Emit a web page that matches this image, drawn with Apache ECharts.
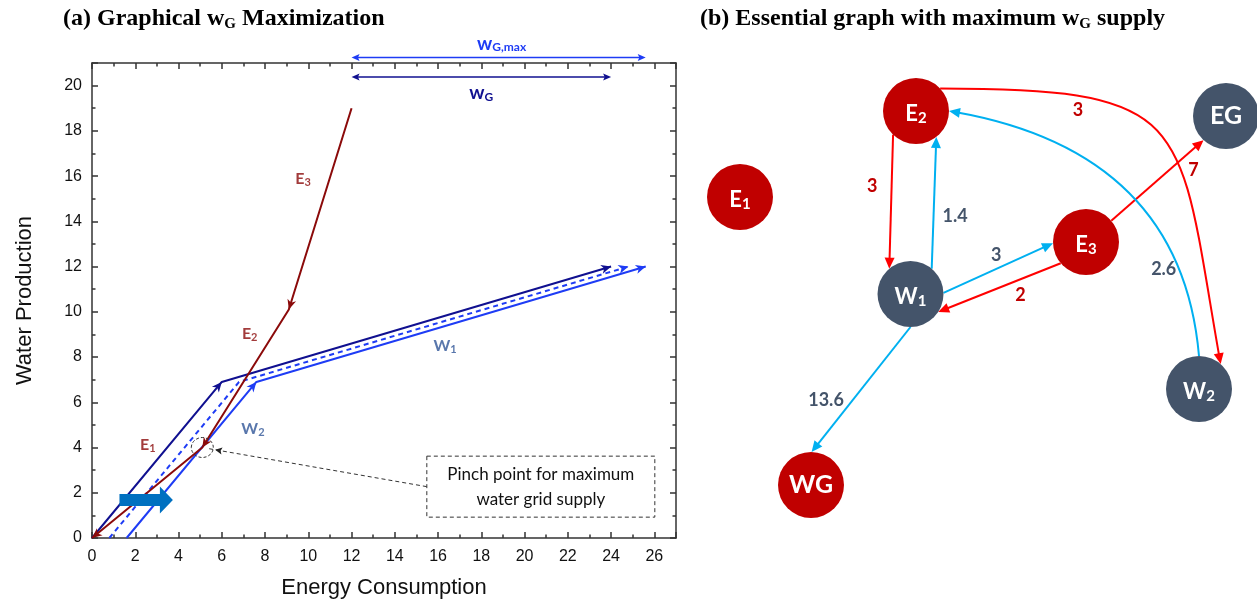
<!DOCTYPE html>
<html><head><meta charset="utf-8">
<script src="https://cdn.jsdelivr.net/npm/echarts@6/dist/echarts.min.js"></script>
<style>html,body{margin:0;padding:0;background:#fff}#c{width:1257px;height:605px}</style>
</head><body><div id="c"></div>
<script>
// ================= DATA: panel (a) =================
const xTickValues = [0,2,4,6,8,10,12,14,16,18,20,22,24,26];
const yTickValues = [0,2,4,6,8,10,12,14,16,18,20];
const xMax = 27, yMax = 21;
// energy composite curve (drawn from top to bottom: E3 -> E2 -> E1)
const energyCurve = [[0,0],[5.1,4.0],[9.1,10.1],[12.0,19.0]];
// water composite curves
const waterCurveWG  = [[0,0],[6.0,6.9],[24.0,12.0]];
const waterCurveMid = [[0.8,0],[6.8,6.9],[24.8,12.0]];
const waterCurveMax = [[1.6,0],[7.6,6.9],[25.6,12.0]];
const shiftArrow = [[1.27,1.68],[3.74,1.68]];
const wGSpan = [12, 24];
const wGmaxSpan = [12, 25.6];
const pinchPoint = [5.1, 4.0];
const noteAnchor = [20.75, 2.27];
const noteLines = ['Pinch point for maximum', 'water grid supply'];
const curveLabelNames = ['E1','E2','E3','W1','W2'];
const curveLabelPos = [[2.58,4.11],[7.29,9.01],[9.76,15.88],[16.32,8.48],[7.44,4.84]];

// ================= DATA: panel (b) =================
const nodeNames = ['E1','E2','E3','EG','W1','W2','WG'];
const nodeX = [5.0, 22.6, 39.6, 53.6, 22.05, 50.9, 12.1];
const nodeY = [14.7, 6.1, 19.2, 6.6, 24.4, 33.9, 43.5];
const edgeFrom = ['E2','W1','W1','E3','E3','E2','W2','W1'];
const edgeTo   = ['W1','E2','E3','W1','EG','W2','E2','WG'];
const edgeFlow = [3, 1.4, 3, 2, 7, 3, 2.6, 13.6];

// ================= STYLE =================
const D = Math.PI/180;
const C_E = '#8B0A0A', C_NAVY = '#101090', C_BLUE = '#1E3CF5', C_WLAB = '#2F5597';
const curveColors = [C_E, C_NAVY, C_BLUE, C_BLUE];
const NODE_R = 33;
const nodeColor = {E1:'#C00000',E2:'#C00000',E3:'#C00000',WG:'#C00000',EG:'#44546A',W1:'#44546A',W2:'#44546A'};
const edgeGeom = [
  {a1:134, a2:230, lt:0.5, lo:[-19,-16]},
  {a1:-50, a2:52,  lt:0.5, lo:[21,13]},
  {a1:-2,  a2:178, lt:0.5, lo:[-2,-13]},
  {a1:140, a2:33,  lt:0.5, lo:[21,8]},
  {a1:-40, a2:133, lt:0.5, lo:[36,-10]},
  {a1:-43, a2:-49, c:[256,0,249,80], lt:0.25, lo:[-8,13]},
  {a1:-90, a2:0,   c:[155,-95,136.5,190], lt:0.2, lo:[-17,-4]},
  {a1:90,  a2:-89, lt:0.5, lo:[-35,11]}
];

const arrowData = [];
[[2,3],[1,2],[0,1]].forEach(([a,b]) => arrowData.push([energyCurve[a][0],energyCurve[a][1],energyCurve[b][0],energyCurve[b][1],0]));
[[waterCurveWG,1],[waterCurveMax,2]].forEach(([c,ci]) => {
  arrowData.push([c[1][0],c[1][1],c[0][0],c[0][1],ci]);
  arrowData.push([c[2][0],c[2][1],c[1][0],c[1][1],ci]);
});
arrowData.push([waterCurveMid[2][0],waterCurveMid[2][1],waterCurveMid[1][0],waterCurveMid[1][1],3]);

function head(tip, ang, L, W, notch, color) {
  const ux = Math.cos(ang), uy = Math.sin(ang);
  const bx = tip[0]-ux*L, by = tip[1]-uy*L;
  return {type:'polygon', shape:{points:[[tip[0],tip[1]],[bx-uy*W,by+ux*W],[tip[0]-ux*L*notch,tip[1]-uy*L*notch],[bx+uy*W,by-ux*W]]}, style:{fill:color}};
}
function bez(p0,p1,p2,p3,t){
  const a=(1-t)*(1-t)*(1-t), b=3*(1-t)*(1-t)*t, c=3*(1-t)*t*t, d=t*t*t;
  return [a*p0[0]+b*p1[0]+c*p2[0]+d*p3[0], a*p0[1]+b*p1[1]+c*p2[1]+d*p3[1]];
}

const lineSeries = (data, color, dashed) => ({
  type:'line', xAxisIndex:0, yAxisIndex:0, data, showSymbol:false, symbol:'none', silent:true, z:3,
  lineStyle:{color, width:2, type: dashed ? [5,4] : 'solid'}
});

const frameAxis = (extra) => Object.assign({
  type:'value', interval:2, gridIndex:0,
  axisLine:{show:true, onZero:false, lineStyle:{color:'#333', width:1.5}},
  axisTick:{show:true, inside:true, length:6, lineStyle:{color:'#333', width:1.5}},
  minorTick:{show:true, splitNumber:2, length:3.5, lineStyle:{color:'#333', width:1.5}},
  splitLine:{show:false}
}, extra);

const labelFont = {fontFamily:'Liberation Sans', fontSize:16, color:'#111'};
const titleStyle = {fontFamily:'Liberation Serif', fontWeight:'bold', fontSize:24, lineHeight:26, color:'#000',
  rich:{g:{fontFamily:'Liberation Serif', fontWeight:'bold', fontSize:15, lineHeight:15, verticalAlign:'bottom', color:'#000'}}};

const option = {
  animation:false,
  backgroundColor:'#fff',
  title:[
    {text:'(a) Graphical w{g|G} Maximization', left:63, top:6, padding:0, textStyle:titleStyle},
    {text:'(b) Essential graph with maximum w{g|G} supply', left:700, top:6, padding:0, textStyle:titleStyle}
  ],
  grid:[
    {left:92, top:63, width:584, height:475},
    {left:690, top:50, width:560, height:500}
  ],
  xAxis:[
    frameAxis({min:xTickValues[0], max:xMax, position:'bottom',
      axisLabel:Object.assign({margin:11, showMaxLabel:false}, labelFont),
      name:'Energy Consumption', nameLocation:'middle', nameGap:39,
      nameTextStyle:{fontFamily:'Liberation Sans', fontSize:22, color:'#111'}}),
    frameAxis({min:xTickValues[0], max:xMax, position:'top', axisLabel:{show:false}}),
    {gridIndex:1, type:'value', min:0, max:56, show:false}
  ],
  yAxis:[
    frameAxis({min:yTickValues[0], max:yMax, position:'left',
      axisLabel:Object.assign({margin:10, showMaxLabel:false}, labelFont),
      name:'Water Production', nameLocation:'middle', nameGap:56,
      nameTextStyle:{fontFamily:'Liberation Sans', fontSize:22, color:'#111'}}),
    frameAxis({min:yTickValues[0], max:yMax, position:'right', axisLabel:{show:false}}),
    {gridIndex:1, type:'value', min:0, max:50, inverse:true, show:false}
  ],
  series:[
    lineSeries(waterCurveWG, C_NAVY, false),
    lineSeries(waterCurveMid, C_BLUE, true),
    lineSeries(waterCurveMax, C_BLUE, false),
    lineSeries(energyCurve, C_E, false),
    {type:'custom', xAxisIndex:0, yAxisIndex:0, data:arrowData, z:5, silent:true, clip:false,
     renderItem:(params, api) => {
       const tip = api.coord([api.value(0), api.value(1)]);
       const from = api.coord([api.value(2), api.value(3)]);
       const ang = Math.atan2(tip[1]-from[1], tip[0]-from[0]);
       return head(tip, ang, 10, 4.5, 0.72, curveColors[api.value(4)]);
     }},
    {type:'custom', xAxisIndex:0, yAxisIndex:0, data:[[shiftArrow[0][0],shiftArrow[0][1],shiftArrow[1][0],shiftArrow[1][1]]], z:6, silent:true,
     renderItem:(params, api) => {
       const a = api.coord([api.value(0), api.value(1)]);
       const b = api.coord([api.value(2), api.value(3)]);
       const hl = 13, sh = 6, hh = 13.5;
       const bx = b[0]-hl;
       return {type:'polygon', shape:{points:[[a[0],a[1]-sh],[bx,a[1]-sh],[bx,a[1]-hh],[b[0],b[1]],[bx,a[1]+hh],[bx,a[1]+sh],[a[0],a[1]+sh]]},
               style:{fill:'#0070C0'}};
     }},
    {type:'custom', xAxisIndex:0, yAxisIndex:0, clip:false, z:6, silent:true,
     data:[[wGSpan[0], wGSpan[1], 0],[wGmaxSpan[0], wGmaxSpan[1], 1]],
     renderItem:(params, api) => {
       const i = api.value(2);
       const a = api.coord([api.value(0), 0]), b = api.coord([api.value(1), 0]);
       const cs = params.coordSys;
       const y = i === 1 ? cs.y - 5.5 : cs.y + 14;
       const col = i === 1 ? C_BLUE : C_NAVY;
       const mid = (a[0]+b[0])/2;
       return {type:'group', children:[
         {type:'line', shape:{x1:a[0]+4, y1:y, x2:b[0]-4, y2:y}, style:{stroke:col, lineWidth:1.5}},
         head([a[0],y], Math.PI, 8, 3.5, 0.8, col),
         head([b[0],y], 0, 8, 3.5, 0.8, col),
         {type:'text', x: mid + (i===1?3:0), y: i===1 ? y-14 : y+16,
          style:{text: i===1 ? '{m|w}{s|G,max}' : '{m|w}{s|G}', align:'center', verticalAlign:'middle',
            rich:{m:{fontFamily:'Lato', fontWeight:'bold', fontSize:19, lineHeight:20, fill:col, color:col},
                  s:{fontFamily:'Lato', fontWeight:'bold', fontSize:12, lineHeight:10, verticalAlign:'bottom', fill:col, color:col}}}}
       ]};
     }},
    {type:'custom', xAxisIndex:0, yAxisIndex:0, clip:false, z:7, silent:true,
     data:[[pinchPoint[0], pinchPoint[1], noteAnchor[0], noteAnchor[1]]],
     renderItem:(params, api) => {
       const p = api.coord([api.value(0), api.value(1)]);
       const n = api.coord([api.value(2), api.value(3)]);
       const bw = 228, bh = 61;
       const s = [n[0]-bw/2, n[1]];
       const ang = Math.atan2(p[1]-s[1], p[0]-s[0]);
       const tip = [p[0]-Math.cos(ang)*13, p[1]-Math.sin(ang)*13];
       return {type:'group', children:[
         {type:'ellipse', shape:{cx:p[0], cy:p[1], rx:11, ry:10}, style:{fill:'none', stroke:'#333', lineWidth:1, lineDash:[3,2]}},
         {type:'line', shape:{x1:s[0], y1:s[1], x2:tip[0]+Math.cos(ang)*6, y2:tip[1]+Math.sin(ang)*6}, style:{stroke:'#333', lineWidth:1, lineDash:[4,3]}},
         head(tip, ang, 7, 3.5, 0.8, '#222'),
         {type:'rect', shape:{x:n[0]-bw/2, y:n[1]-bh/2, width:bw, height:bh}, style:{fill:'#fff', stroke:'#333', lineWidth:1, lineDash:[4,3]}},
         {type:'text', x:n[0], y:n[1], style:{text: noteLines.join('\n'), align:'center', verticalAlign:'middle',
            fontFamily:'Lato', fontSize:17, lineHeight:25, fill:'#111'}}
       ]};
     }},
    {type:'scatter', xAxisIndex:0, yAxisIndex:0, symbolSize:2, itemStyle:{color:'rgba(255,255,255,0)'}, silent:true, z:8,
     data: curveLabelNames.map((nm, i) => ({value:curveLabelPos[i], label:{show:true, position:'inside',
        formatter:'{m|' + nm[0] + '}{s|' + nm.slice(1) + '}',
        rich:{m:{fontFamily:'Lato', fontWeight:'bold', fontSize:16, lineHeight:18, color: nm[0]==='E' ? C_E : C_WLAB},
              s:{fontFamily:'Lato', fontWeight:'bold', fontSize:11, lineHeight:8, verticalAlign:'bottom', color: nm[0]==='E' ? C_E : C_WLAB}}}}))},
    {type:'custom', xAxisIndex:2, yAxisIndex:2, clip:false, z:2, silent:true,
     data: edgeFlow.map((v,i) => [i, 0]),
     renderItem:(params, api) => {
       const k = api.value(0);
       const f = nodeNames.indexOf(edgeFrom[k]), t = nodeNames.indexOf(edgeTo[k]);
       const A = api.coord([nodeX[f], nodeY[f]]), B = api.coord([nodeX[t], nodeY[t]]);
       const g = edgeGeom[k];
       const p0 = [A[0]+NODE_R*Math.cos(g.a1*D), A[1]+NODE_R*Math.sin(g.a1*D)];
       const p3 = [B[0]+NODE_R*Math.cos(g.a2*D), B[1]+NODE_R*Math.sin(g.a2*D)];
       const energy = edgeFrom[k][0] === 'E';
       const lc = energy ? '#FF0000' : '#00B0F0';
       const tc = energy ? '#C00000' : '#44546A';
       let line, ang, lp;
       if (g.c) {
         const cp1 = [p0[0]+g.c[0]*Math.cos(g.c[1]*D), p0[1]+g.c[0]*Math.sin(g.c[1]*D)];
         const cp2 = [p3[0]-g.c[2]*Math.cos(g.c[3]*D), p3[1]-g.c[2]*Math.sin(g.c[3]*D)];
         ang = Math.atan2(p3[1]-cp2[1], p3[0]-cp2[0]);
         const e = [p3[0]-Math.cos(ang)*6, p3[1]-Math.sin(ang)*6];
         line = {type:'bezierCurve', shape:{x1:p0[0],y1:p0[1],x2:e[0],y2:e[1],cpx1:cp1[0],cpy1:cp1[1],cpx2:cp2[0],cpy2:cp2[1]},
                 style:{stroke:lc, lineWidth:2, fill:'none'}};
         lp = bez(p0,cp1,cp2,p3,g.lt);
       } else {
         ang = Math.atan2(p3[1]-p0[1], p3[0]-p0[0]);
         const e = [p3[0]-Math.cos(ang)*6, p3[1]-Math.sin(ang)*6];
         line = {type:'line', shape:{x1:p0[0],y1:p0[1],x2:e[0],y2:e[1]}, style:{stroke:lc, lineWidth:2}};
         lp = [p0[0]+(p3[0]-p0[0])*g.lt, p0[1]+(p3[1]-p0[1])*g.lt];
       }
       return {type:'group', children:[
         line,
         head(p3, ang, 11, 5, 1, lc),
         {type:'text', x:lp[0]+g.lo[0], y:lp[1]+g.lo[1], style:{text:String(edgeFlow[k]), align:'center', verticalAlign:'middle',
            fontFamily:'Lato', fontWeight:'bold', fontSize:18, fill:tc}}
       ]};
     }},
    {type:'scatter', xAxisIndex:2, yAxisIndex:2, symbolSize:NODE_R*2, z:4, silent:true,
     data: nodeNames.map((nm,i) => ({value:[nodeX[i], nodeY[i]], itemStyle:{color:nodeColor[nm], opacity:1},
        label:{show:true, position:'inside', offset: nm[1]==='G' ? [0,0] : [0,3],
          formatter: nm[1]==='G' ? '{b|' + nm + '}' : '{m|' + nm[0] + '}{s|' + nm[1] + '}',
          rich:{b:{fontFamily:'Lato', fontWeight:'bold', fontSize:25, color:'#fff'},
                m:{fontFamily:'Lato', fontWeight:'bold', fontSize:22, lineHeight:24, color:'#fff'},
                s:{fontFamily:'Lato', fontWeight:'bold', fontSize:15, lineHeight:10, verticalAlign:'bottom', color:'#fff'}}}}))}
  ]
};
const chart = echarts.init(document.getElementById('c'));
chart.setOption(option);
</script>
</body></html>
